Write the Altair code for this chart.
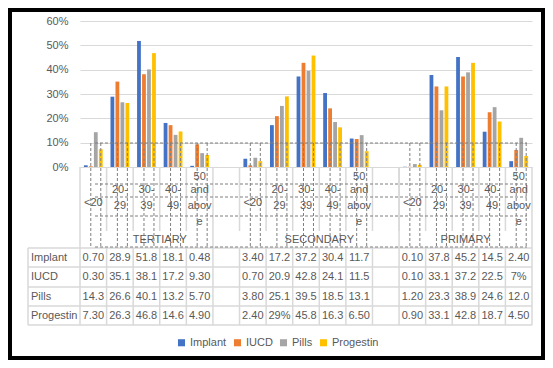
import altair as alt
import pandas as pd

# ---------------- data ----------------
series = ["Implant", "IUCD", "Pills", "Progestin"]
colors = ["#4472C4", "#ED7D31", "#A5A5A5", "#FFC000"]
groups = ["TERTIARY", "SECONDARY", "PRIMARY"]
ages = ["<20", "20-29", "30-39", "40-49", "50 and above"]

implant = [0.70, 28.9, 51.8, 18.1, 0.48, 3.40, 17.2, 37.2, 30.4, 11.7, 0.10, 37.8, 45.2, 14.5, 2.40]
iucd = [0.30, 35.1, 38.1, 17.2, 9.30, 0.70, 20.9, 42.8, 24.1, 11.5, 0.10, 33.1, 37.2, 22.5, 7.0]
pills = [14.3, 26.6, 40.1, 13.2, 5.70, 3.80, 25.1, 39.5, 18.5, 13.1, 1.20, 23.3, 38.9, 24.6, 12.0]
progestin = [7.30, 26.3, 46.8, 14.6, 4.90, 2.40, 29.0, 45.8, 16.3, 6.50, 0.90, 33.1, 42.8, 18.7, 4.50]

# table texts as printed in the data table
implant_txt = ["0.70", "28.9", "51.8", "18.1", "0.48", "3.40", "17.2", "37.2", "30.4", "11.7", "0.10", "37.8", "45.2", "14.5", "2.40"]
iucd_txt = ["0.30", "35.1", "38.1", "17.2", "9.30", "0.70", "20.9", "42.8", "24.1", "11.5", "0.10", "33.1", "37.2", "22.5", "7%"]
pills_txt = ["14.3", "26.6", "40.1", "13.2", "5.70", "3.80", "25.1", "39.5", "18.5", "13.1", "1.20", "23.3", "38.9", "24.6", "12.0"]
progestin_txt = ["7.30", "26.3", "46.8", "14.6", "4.90", "2.40", "29%", "45.8", "16.3", "6.50", "0.90", "33.1", "42.8", "18.7", "4.50"]

# wrapped category label lines (as shown in the narrow axis cells)
age_lines = {
    "<20": [(0, "<20")],
    "20-29": [(1, "20-"), (2, "29")],
    "30-39": [(1, "30-"), (2, "39")],
    "40-49": [(1, "40-"), (2, "49")],
    "50 and above": [(-1, "50"), (1, "and"), (2, "abov"), (3, "e")],
}

# ---------------- build tables ----------------
cols = []
data_cols = []
for gi, g in enumerate(groups):
    for a in ages:
        cols.append(f"{g}|{a}")
        data_cols.append(f"{g}|{a}")
    if gi < len(groups) - 1:
        cols.append(f"blank{gi}")

values = {"Implant": implant, "IUCD": iucd, "Pills": pills, "Progestin": progestin}
texts = {"Implant": implant_txt, "IUCD": iucd_txt, "Pills": pills_txt, "Progestin": progestin_txt}

rows = []
for s in series:
    for c, v, t in zip(data_cols, values[s], texts[s]):
        rows.append({"col": c, "series": s, "value": v / 100.0, "txt": t})
df = pd.DataFrame(rows)

xscale = alt.Scale(domain=cols, paddingInner=0, paddingOuter=0)
FONT = "Liberation Sans"
TXT = "#595959"
GRID = "#d9d9d9"

def X(**kw):
    return alt.X("col:N", scale=xscale, axis=None, **kw)

layers = []

# bars
bars = alt.Chart(df).mark_bar().encode(
    x=X(),
    xOffset=alt.XOffset("series:N", scale=alt.Scale(domain=series, paddingInner=0.24, paddingOuter=0.78)),
    y=alt.Y("value:Q", scale=alt.Scale(domain=[0, 0.6], range=[157, 11]),
            axis=alt.Axis(format=".0%", values=[0, 0.1, 0.2, 0.3, 0.4, 0.5, 0.6], title=None,
                          domain=False, ticks=False, tickSize=0, labelPadding=12,
                          labelColor=TXT, labelFontSize=11, labelFont=FONT,
                          gridColor=GRID, gridWidth=1)),
    color=alt.Color("series:N", scale=alt.Scale(domain=series, range=colors),
                    legend=alt.Legend(title=None, orient="none", direction="horizontal",
                                      legendX=96, legendY=327, symbolType="square",
                                      symbolSize=50, symbolStrokeWidth=0,
                                      labelFontSize=11, labelFont=FONT, labelColor=TXT,
                                      columnPadding=5, labelOffset=3)),
)
layers.append(bars)

one = pd.DataFrame({"k": [0]})
cdf = pd.DataFrame({"col": cols})

# axis-area cell separators (inner) and group separators
inner = pd.DataFrame({"col": [c for c in cols if c not in (cols[0], "blank0")]})
layers.append(alt.Chart(inner).mark_rule(color=GRID, strokeWidth=1.5).encode(
    x=X(bandPosition=0), y=alt.value(157), y2=alt.value(221)))
gsep = pd.DataFrame({"col": [cols[0], "blank0", cols[12]]})
layers.append(alt.Chart(gsep).mark_rule(color=GRID, strokeWidth=1.5).encode(
    x=X(bandPosition=0), y=alt.value(157), y2=alt.value(238)))
layers.append(alt.Chart(pd.DataFrame({"col": [cols[-1]]})).mark_rule(color=GRID, strokeWidth=1.5).encode(
    x=X(bandPosition=1), y=alt.value(157), y2=alt.value(238)))

# data table grid
layers.append(alt.Chart(cdf).mark_rule(color=GRID, strokeWidth=1.5).encode(
    x=X(bandPosition=0), y=alt.value(238), y2=alt.value(315)))
layers.append(alt.Chart(pd.DataFrame({"col": [cols[-1]]})).mark_rule(color=GRID, strokeWidth=1.5).encode(
    x=X(bandPosition=1), y=alt.value(238), y2=alt.value(315)))
layers.append(alt.Chart(one).mark_rule(color=GRID, strokeWidth=1.5).encode(
    x=alt.value(-52), y=alt.value(238), y2=alt.value(315)))
for py in [238, 257, 277, 296, 315]:
    layers.append(alt.Chart(one).mark_rule(color=GRID, strokeWidth=1.5).encode(
        x=alt.value(-52), x2=alt.value(452), y=alt.value(py), y2=alt.value(py)))

# dashed artifacts (horizontal)
for py in [133, 174, 187, 206, 237]:
    layers.append(alt.Chart(one).mark_rule(color="#7f7f7f", strokeWidth=1, strokeDash=[3, 2]).encode(
        x=alt.value(15), x2=alt.value(447), y=alt.value(py), y2=alt.value(py)))
# dashed artifacts (vertical), at bar positions
vdf = pd.DataFrame([{"col": c, "series": s} for c in data_cols for s in ["IUCD", "Progestin"]])
layers.append(alt.Chart(vdf).mark_rule(color="#7f7f7f", strokeWidth=1, strokeDash=[3, 2]).encode(
    x=X(),
    xOffset=alt.XOffset("series:N", scale=alt.Scale(domain=series, paddingInner=0.24, paddingOuter=0.78)),
    y=alt.value(133), y2=alt.value(237)))

# category label lines
line_y = {-1: 167, 0: 193, 1: 180, 2: 196, 3: 212}
lab_rows = []
for g in groups:
    for a in ages:
        for li, t in age_lines[a]:
            lab_rows.append({"col": f"{g}|{a}", "line": li, "t": t})
lab_df = pd.DataFrame(lab_rows)
for li, py in line_y.items():
    sub = lab_df[lab_df["line"] == li]
    layers.append(alt.Chart(sub).mark_text(fontSize=11, font=FONT, color=TXT, baseline="middle").encode(
        x=X(), y=alt.value(py), text="t:N"))

# group labels (centered over their columns incl. trailing blank)
gl1 = pd.DataFrame({"col": [cols[3], cols[9]], "t": groups[:2]})
layers.append(alt.Chart(gl1).mark_text(fontSize=11, font=FONT, color=TXT, baseline="middle").encode(
    x=X(bandPosition=0), y=alt.value(230), text="t:N"))
gl2 = pd.DataFrame({"col": [cols[14]], "t": [groups[2]]})
layers.append(alt.Chart(gl2).mark_text(fontSize=11, font=FONT, color=TXT, baseline="middle").encode(
    x=X(), y=alt.value(230), text="t:N"))

# data table
row_y = {"Implant": 247.5, "IUCD": 267, "Pills": 286.5, "Progestin": 305.5}
for s in series:
    sub = df[df["series"] == s]
    layers.append(alt.Chart(sub).mark_text(fontSize=11, font=FONT, color=TXT, baseline="middle").encode(
        x=X(), y=alt.value(row_y[s]), text="txt:N"))
    layers.append(alt.Chart(pd.DataFrame({"t": [s]})).mark_text(
        fontSize=11, font=FONT, color=TXT, baseline="middle", align="left").encode(
        x=alt.value(-49), y=alt.value(row_y[s]), text="t:N"))

# outer frame
layers.append(alt.Chart(one).mark_rect(filled=False, stroke="black", strokeWidth=4).encode(
    x=alt.value(-70), x2=alt.value(463), y=alt.value(0), y2=alt.value(348)))

chart = alt.layer(*layers).properties(
    width=452, height=340,
    padding={"left": 72, "top": 2, "right": 13, "bottom": 10},
    autosize=alt.AutoSizeParams(type="none"),
    background="white",
).configure_view(stroke=None)

chart.save("out.html", embed_options={"renderer": "svg", "actions": False})
